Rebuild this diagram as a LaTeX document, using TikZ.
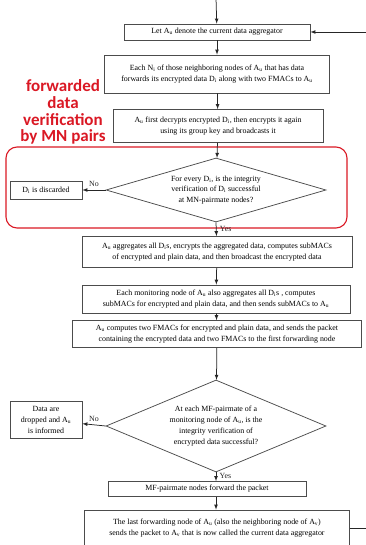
\documentclass[tikz,border=0pt]{standalone}
\usepackage{fontspec}
\setmainfont{Liberation Serif}
\newfontfamily\notefont{Carlito}
\usepackage{tikz}
\usetikzlibrary{arrows,shapes.geometric}
\usepackage{xcolor}
\definecolor{hlred}{RGB}{218,24,36}
\newcommand{\Au}{A\textsubscript{u}}
\newcommand{\Av}{A\textsubscript{v}}
\newcommand{\Di}{D\textsubscript{i}}

\begin{document}
\begin{tikzpicture}[x=1pt, y=-1pt,
  box/.style={draw=black!70, fill=white, line width=0.75pt, align=center, inner sep=1pt,
    font=\fontsize{7.9}{11.2}\selectfont},
  decision/.style={draw=black!70, diamond, line width=0.75pt, align=center, inner sep=0.5pt,
    font=\fontsize{7.9}{10.8}\selectfont},
  flow/.style={-latex, line width=0.75pt, black!85}]
\useasboundingbox (0,0) rectangle (366,545);
\clip (0,0) rectangle (366,545);

% note and highlighted region
\node[text=hlred, align=center, font=\notefont\bfseries\fontsize{17}{16.8}\selectfont] (note) at (63,112)
  {forwarded\\data\\verification\\by MN pairs};
\draw[hlred, line width=1.1pt, rounded corners=11pt] (6,147) rectangle (347,228);

\coordinate (in) at (216,-2);
\coordinate (back) at (368,32);
\coordinate (out) at (368,528);

\node[box, minimum width=186, minimum height=16] (1) at (217,32) {Let \Au{} denote the current data aggregator};
\node[box, minimum width=225, minimum height=38] (2) at (217,74)
  {Each N\textsubscript{i} of those neighboring nodes of \Au{} that has data\\forwards its encrypted data \Di{} along with two FMACs to \Au};
\node[box, minimum width=210, minimum height=33] (3) at (218,126)
  {\Au{} first decrypts encrypted \Di, then encrypts it again\\using its group key and broadcasts it};
\node[decision, minimum width=220, minimum height=64, aspect=3.5] (d1) at (216,190)
  {For every \Di, is the integrity\\verification of \Di{} successful\\at MN-pairmate nodes?};
\node[box, minimum width=72, minimum height=18] (disc) at (46,190) {\Di{} is discarded};
\node[box, minimum width=270, minimum height=31] (4) at (217,252)
  {\Au{} aggregates all \Di s, encrypts the aggregated data, computes subMACs\\of encrypted and plain data, and then broadcast the encrypted data};
\node[box, minimum width=268, minimum height=28] (5) at (216,299)
  {Each monitoring node of \Au{} also aggregates all \Di s , computes\\subMACs for encrypted and plain data, and then sends subMACs to \Au};
\node[box, minimum width=289, minimum height=27] (6) at (217,334)
  {\Au{} computes two FMACs for encrypted and plain data, and sends the packet\\containing the encrypted data and two FMACs to the first forwarding node};
\node[decision, minimum width=220, minimum height=92, aspect=2.4] (d2) at (216,426)
  {At each MF-pairmate of a\\monitoring node of \Au, is the\\integrity verification of\\encrypted data successful?};
\node[box, minimum width=72, minimum height=37] (drop) at (46,420) {Data are\\dropped and \Au\\is informed};
\node[box, minimum width=198, minimum height=15] (7) at (207,489) {MF-pairmate nodes forward the packet};
\node[box, minimum width=265, minimum height=36] (8) at (217,528)
  {The last forwarding node of \Au{} (also the neighboring node of \Av)\\sends the packet to \Av{} that is now called the current data aggregator};

\draw[flow] (in) to (1);
\draw[flow] (back) to (1.east);
\draw[flow] (1) to (2);
\draw[flow] (2) to (3);
\draw[flow] (3) to (d1);
\draw[flow] (d1.west) to node[above, font=\fontsize{7.9}{9}\selectfont]{No} (disc);
\draw[flow] (d1.south) to node[right, pos=0.45, font=\fontsize{7.9}{9}\selectfont]{Yes} (4);
\draw[flow] (4) to (5);
\draw[flow] (5) to (6);
\draw[flow] (6) to (d2);
\draw[flow] (d2.west) to node[above, font=\fontsize{7.9}{9}\selectfont]{No} (drop);
\draw[flow] (d2.south) to node[right, pos=0.4, font=\fontsize{7.9}{9}\selectfont]{Yes} (7.north -| d2.south);
\draw[flow] (7.south -| d2.south) to (8.north -| d2.south);
\draw[line width=0.75pt, black!85] (8.east) to (out);
\end{tikzpicture}
\end{document}
